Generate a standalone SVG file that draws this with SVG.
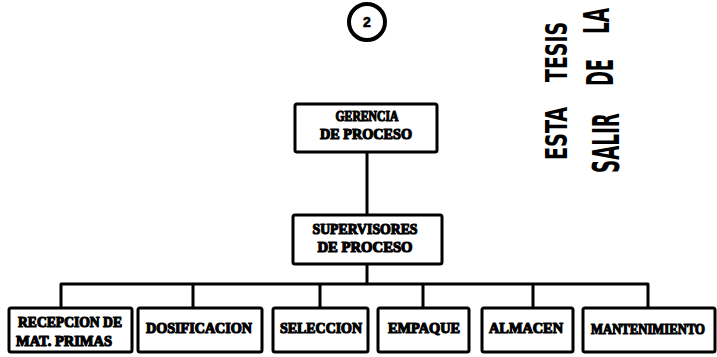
<svg xmlns="http://www.w3.org/2000/svg" width="717" height="357" viewBox="0 0 717 357">
<style>
.box{fill:#fff;stroke:#000;stroke-width:3}
.lbl{font-family:"Liberation Serif",serif;font-weight:bold;font-size:15px;fill:#000;stroke:#000;stroke-width:1.2;stroke-linejoin:round;text-anchor:middle}
.stamp{font-family:"DejaVu Sans Condensed","DejaVu Sans",sans-serif;font-weight:bold;fill:#000}
.con{fill:none;stroke:#000;stroke-width:3;stroke-linejoin:round}
</style>
<rect width="717" height="357" fill="#fff"/>
<g id="page-number">
<circle cx="367" cy="22" r="18" fill="none" stroke="#000" stroke-width="4"/>
<text x="367" y="27" font-family="Liberation Sans,sans-serif" font-weight="bold" font-size="14" stroke="#000" stroke-width="0.6" text-anchor="middle">2</text>
</g>
<g id="stamp">
<text class="stamp" font-size="30" transform="translate(567,160) rotate(-90) scale(0.69,1)" textLength="77" lengthAdjust="spacingAndGlyphs">ESTA</text>
<text class="stamp" font-size="30" transform="translate(567,82) rotate(-90) scale(0.7,1)" textLength="86" lengthAdjust="spacingAndGlyphs">TESIS</text>
<text class="stamp" font-size="38" transform="translate(619,173) rotate(-90) scale(0.54,1)" textLength="111" lengthAdjust="spacingAndGlyphs">SALIR</text>
<text class="stamp" font-size="38" transform="translate(613,86) rotate(-90) scale(0.52,1)" textLength="52" lengthAdjust="spacingAndGlyphs">DE</text>
<text class="stamp" font-size="36" transform="translate(609,34) rotate(-90) scale(0.58,1)" textLength="45" lengthAdjust="spacingAndGlyphs">LA</text>
</g>
<g id="connectors">
<path class="con" d="M367 152V215"/>
<path class="con" d="M367 264V284"/>
<path class="con" d="M61 308V284H648V308"/>
<path class="con" d="M193 284V308M320 284V308M423 284V308M533 284V308"/>
</g>
<g id="gerencia">
<rect class="box" x="295" y="104" width="142" height="48" rx="2"/>
<text class="lbl" x="367" y="121" textLength="63" lengthAdjust="spacingAndGlyphs">GERENCIA</text>
<text class="lbl" x="366" y="139" textLength="92" lengthAdjust="spacingAndGlyphs">DE PROCESO</text>
</g>
<g id="supervisores">
<rect class="box" x="293" y="215" width="149" height="49" rx="2"/>
<text class="lbl" x="365" y="234" textLength="105" lengthAdjust="spacingAndGlyphs">SUPERVISORES</text>
<text class="lbl" x="365" y="252" textLength="95" lengthAdjust="spacingAndGlyphs">DE PROCESO</text>
</g>
<g id="recepcion">
<rect class="box" x="9" y="308" width="123" height="44" rx="2"/>
<text class="lbl" x="70" y="327" textLength="104" lengthAdjust="spacingAndGlyphs">RECEPCION DE</text>
<text class="lbl" x="64" y="346" textLength="96" lengthAdjust="spacingAndGlyphs">MAT. PRIMAS</text>
</g>
<g id="dosificacion">
<rect class="box" x="138" y="308" width="124" height="44" rx="2"/>
<text class="lbl" x="199" y="333" textLength="106" lengthAdjust="spacingAndGlyphs">DOSIFICACION</text>
</g>
<g id="seleccion">
<rect class="box" x="273" y="308" width="95" height="44" rx="2"/>
<text class="lbl" x="321" y="333" textLength="82" lengthAdjust="spacingAndGlyphs">SELECCION</text>
</g>
<g id="empaque">
<rect class="box" x="378" y="308" width="91" height="44" rx="2"/>
<text class="lbl" x="424" y="333" textLength="72" lengthAdjust="spacingAndGlyphs">EMPAQUE</text>
</g>
<g id="almacen">
<rect class="box" x="482" y="308" width="91" height="44" rx="2"/>
<text class="lbl" x="526" y="333" textLength="74" lengthAdjust="spacingAndGlyphs">ALMACEN</text>
</g>
<g id="mantenimiento">
<rect class="box" x="583" y="308" width="132" height="44" rx="2"/>
<text class="lbl" x="648" y="334" font-size="11.5" textLength="114" lengthAdjust="spacingAndGlyphs">MANTENIMIENTO</text>
</g>
</svg>
